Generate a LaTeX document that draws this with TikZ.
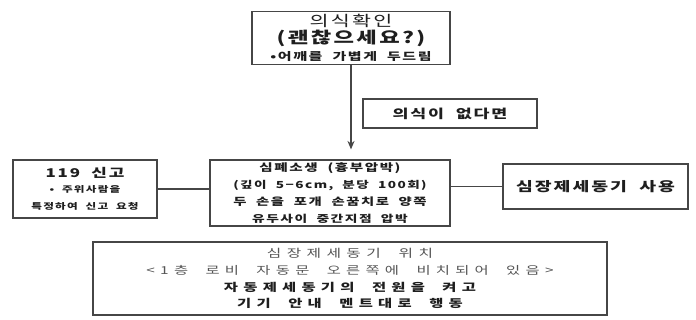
\documentclass[tikz,border=0pt]{standalone}
\usepackage{fontspec}
\setmainfont{Noto Sans CJK KR}[FakeStretch=1.4, LetterSpace=15, WordSpace=2]
\newfontfamily\kowider{Noto Sans CJK KR}[FakeStretch=1.4, LetterSpace=48, WordSpace=2]
\usetikzlibrary{arrows.meta}
\definecolor{boxline}{RGB}{70,70,70}
\definecolor{inkdark}{RGB}{30,30,30}
\definecolor{inklight}{RGB}{85,85,85}
\tikzset{
  stepbox/.style={draw=boxline, line width=1.1pt, rectangle, align=center,
    inner sep=0pt, text=inkdark},
  link/.style={draw=boxline, line width=0.9pt}
}
\begin{document}
\begin{tikzpicture}[x=0.025cm, y=-0.025cm]
                \useasboundingbox (0,0) rectangle (696,320);
                
                % Drawing box check
                \node [stepbox, minimum width=4.95cm, minimum height=1.325cm] (check) at (351,38)
                  {\fontsize{10.5}{15}\selectfont 의식확인\\[0pt]
                   \fontsize{11.3}{15}\selectfont\bfseries (괜찮으세요?)\\[0.5pt]
                   \fontsize{7.6}{11}\selectfont\bfseries •어깨를 가볍게 두드림};%
                
                % Drawing box noreply
                \node [stepbox, minimum width=4.35cm, minimum height=0.725cm] (noreply) at (450,113.5)
                  {\fontsize{8.8}{12}\selectfont\bfseries 의식이 없다면};%
                
                % Drawing box cpr
                \node [stepbox, minimum width=6cm, minimum height=1.65cm] (cpr) at (330,193)
                  {\fontsize{7.4}{12.3}\selectfont\bfseries 심폐소생 (흉부압박)\\
                   \fontsize{6.9}{12.3}\selectfont\bfseries (깊이 5−6cm, 분당 100회)\\
                   \fontsize{7.3}{12.3}\selectfont\bfseries 두 손을 포개 손꿈치로 양쪽\\
                   \fontsize{7}{12.3}\selectfont\bfseries 유두사이 중간지점 압박};%
                
                % Drawing box call
                \node [stepbox, minimum width=3.6cm, minimum height=1.45cm] (call) at (85,189)
                  {\fontsize{8.6}{11}\selectfont\bfseries 119 신고\\[-1.5pt]
                   \fontsize{5.9}{9.5}\selectfont\bfseries • 주위사람을\\
                   \fontsize{5.9}{9.5}\selectfont\bfseries 특정하여 신고 요청};%
                
                % Drawing box aed
                \node [stepbox, minimum width=4.625cm, minimum height=1.125cm] (aed) at (595.5,186.5)
                  {\fontsize{9.3}{12}\selectfont\bfseries 심장제세동기 사용};%
                
                % Drawing box where
                \node [stepbox, minimum width=12.85cm, minimum height=1.825cm] (where) at (350,278.5)
                  {\kowider\fontsize{8}{13.8}\selectfont\color{inklight}심장제세동기 위치\\
                   \kowider\fontsize{7.8}{13.8}\selectfont\color{inklight}<1층 로비 자동문 오른쪽에 비치되어 있음>\\
                   \kowider\fontsize{7.8}{13.8}\selectfont\bfseries 자동제세동기의 전원을 켜고\\
                   \kowider\fontsize{7.8}{13.8}\selectfont\bfseries 기기 안내 멘트대로 행동};%
                
                % Drawing segment check cpr
                \draw [link, -{Stealth[length=6pt, width=5pt]}, shorten >=7pt]
                  (check.south) -- (check.south |- cpr.north);%
                
                % Drawing segment call cpr
                \draw [link] (call.east) -- (call.east -| cpr.west);%
                
                % Drawing segment cpr aed
                \draw [link] (cpr.east |- aed.west) -- (aed.west);%
\end{tikzpicture}
\end{document}
